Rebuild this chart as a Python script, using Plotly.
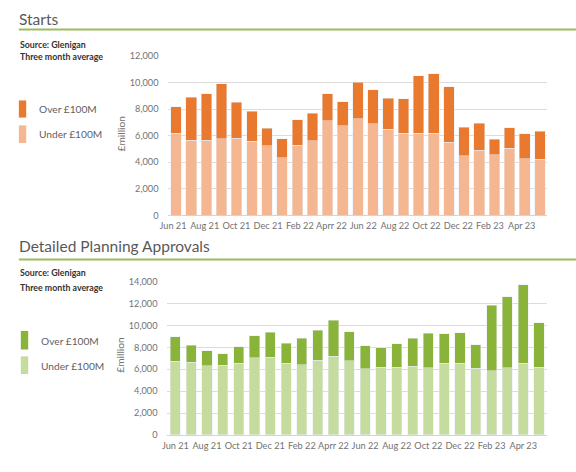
import numpy as np
import plotly.graph_objects as go

# ---------------- data ----------------
starts_months = ["Jun 21", "Jul 21", "Aug 21", "Sep 21", "Oct 21", "Nov 21", "Dec 21", "Jan 22",
                 "Feb 22", "Mar 22", "Apr 22", "May 22", "Jun 22", "Jul 22", "Aug 22", "Sep 22",
                 "Oct 22", "Nov 22", "Dec 22", "Jan 23", "Feb 23", "Mar 23", "Apr 23", "May 23", "Jun 23"]
starts_under = [6180, 5640, 5640, 5760, 5810, 5590, 5250, 4340, 5290, 5610, 7130, 6760, 7280,
                6910, 6470, 6180, 6180, 6180, 5510, 4490, 4900, 4580, 5070, 4260, 4240]
starts_over = [1980, 3260, 3530, 4140, 2690, 2230, 1320, 1440, 1890, 2060, 2010, 1790, 2720,
               2530, 2350, 2590, 4310, 4460, 4170, 2150, 2040, 1160, 1520, 1890, 2080]

dpa_months = ["Jun 21", "Jul 21", "Aug 21", "Sep 21", "Oct 21", "Nov 21", "Dec 21", "Jan 22",
              "Feb 22", "Mar 22", "Apr 22", "May 22", "Jun 22", "Jul 22", "Aug 22", "Sep 22",
              "Oct 22", "Nov 22", "Dec 22", "Jan 23", "Feb 23", "Mar 23", "Apr 23", "May 23"]
dpa_under = [6750, 6630, 6300, 6360, 6540, 7070, 7100, 6540, 6400, 6820, 7180, 6760,
             6050, 6200, 6200, 6290, 6140, 6550, 6550, 6110, 5840, 6140, 6550, 6200]
dpa_over = [2210, 1580, 1400, 1040, 1520, 2000, 2270, 1820, 2420, 2740, 3310, 2650,
            2080, 1750, 2140, 2530, 3150, 2680, 2770, 2110, 6020, 6460, 7150, 4020]

tick_labels = ["Jun 21", "Aug 21", "Oct 21", "Dec 21", "Feb 22", "Aprr 22",
               "Jun 22", "Aug 22", "Oct 22", "Dec 22", "Feb 23", "Apr 23"]

series_names = ["Over £100M", "Under £100M"]

# ---------------- styling ----------------
W, H = 576, 472
ORANGE_DARK = "#E8792F"
ORANGE_LIGHT = "#F4B791"
GREEN_DARK = "#8AB33A"
GREEN_LIGHT = "#C6DC9E"
HEAD_GREEN = "#9DBB5F"
TXT = "#5f5f5f"
AX = "#727272"
FONT = "Lato"


def px(x):
    return x / W


def py(y):
    return (H - y) / H


fig = go.Figure()

top_x = list(range(len(starts_months)))
bot_x = list(range(len(dpa_months)))

fig.add_trace(go.Bar(x=top_x, y=starts_under, name=series_names[1], marker_color=ORANGE_LIGHT,
                     width=0.7, customdata=starts_months, hovertemplate="%{customdata}: %{y:,}<extra></extra>",
                     xaxis="x", yaxis="y", showlegend=False))
fig.add_trace(go.Bar(x=top_x, y=starts_over, name=series_names[0], marker_color=ORANGE_DARK,
                     width=0.7, customdata=starts_months, hovertemplate="%{customdata}: %{y:,}<extra></extra>",
                     xaxis="x", yaxis="y", showlegend=False))
fig.add_trace(go.Bar(x=bot_x, y=dpa_under, name=series_names[1], marker_color=GREEN_LIGHT,
                     width=0.64, customdata=dpa_months, hovertemplate="%{customdata}: %{y:,}<extra></extra>",
                     xaxis="x2", yaxis="y2", showlegend=False))
fig.add_trace(go.Bar(x=bot_x, y=dpa_over, name=series_names[0], marker_color=GREEN_DARK,
                     width=0.64, customdata=dpa_months, hovertemplate="%{customdata}: %{y:,}<extra></extra>",
                     xaxis="x2", yaxis="y2", showlegend=False))

top_ticks = list(np.linspace(-0.2, 22.8, len(tick_labels)))
bot_ticks = list(range(0, 2 * len(tick_labels), 2))

axis_font = dict(family=FONT, size=9.2, color=AX)
xcommon = dict(showgrid=False, zeroline=False, showline=True, linecolor="#d4d4d4", linewidth=1,
               ticks="", tickfont=axis_font, tickangle=0, ticklabelstandoff=2)
ycommon = dict(showgrid=True, gridcolor="#dcdcdc", gridwidth=1, zeroline=False, showline=False,
               tickformat=",d", tickfont=axis_font, ticks="", ticklabelstandoff=9)

fig.update_layout(
    width=W, height=H,
    margin=dict(l=0, r=0, t=0, b=0),
    paper_bgcolor="white", plot_bgcolor="white",
    barmode="stack",
    showlegend=False,
    xaxis=dict(domain=[px(162), px(547)], range=[-0.5, len(starts_months) - 0.5], anchor="y",
               tickvals=top_ticks, ticktext=tick_labels, **xcommon),
    yaxis=dict(domain=[py(215), py(51.3)], range=[0, 12050], dtick=2000, anchor="x", **ycommon),
    xaxis2=dict(domain=[px(161), px(546.5)], range=[-0.5, len(dpa_months) - 0.5], anchor="y2",
                tickvals=bot_ticks, ticktext=tick_labels, **xcommon),
    yaxis2=dict(domain=[py(439.3), py(282)], range=[0, 14050], dtick=2000, anchor="x2", **ycommon),
)

shapes = []
# header rules
shapes.append(dict(type="line", xref="paper", yref="paper", x0=px(10), x1=1, y0=py(25), y1=py(25),
                   line=dict(color=HEAD_GREEN, width=2)))
shapes.append(dict(type="line", xref="paper", yref="paper", x0=px(10), x1=1, y0=py(260), y1=py(260),
                   line=dict(color=HEAD_GREEN, width=2)))
# legend swatches
for (x0, x1, y0, y1, c) in [(10, 17.5, 97.5, 115, ORANGE_DARK), (10, 17.5, 123, 141, ORANGE_LIGHT),
                            (12, 19.5, 333, 352, GREEN_DARK), (12, 19.5, 359, 377, GREEN_LIGHT)]:
    shapes.append(dict(type="rect", xref="paper", yref="paper", x0=px(x0), x1=px(x1), y0=py(y1), y1=py(y0),
                       fillcolor=c, line=dict(width=0)))
fig.update_layout(shapes=shapes)

ann = []


def text(x, y, s, size, color, family=FONT, xanchor="left", angle=0):
    ann.append(dict(x=px(x), y=py(y), xref="paper", yref="paper", text=s, showarrow=False,
                    xanchor=xanchor, yanchor="middle", textangle=angle,
                    font=dict(family=family, size=size, color=color)))


text(8, 14, "Starts", 15.5, "#595959", family="Lato")
text(8, 246, "Detailed Planning Approvals", 15.5, "#595959", family="Lato")
for y0 in (40, 273):
    text(9, y0, "<b>Source: Glenigan</b>", 8.8, "#333333", family="Lato")
for y0 in (53, 289):
    text(9, y0, "<b>Three month average</b>", 8.8, "#333333", family="Lato")
text(28, 106.5, series_names[0], 10.2, TXT)
text(28, 132, series_names[1], 10.2, TXT)
text(30, 343, series_names[0], 10.2, TXT)
text(30, 369, series_names[1], 10.2, TXT)
text(114, 131, "£million", 10.2, AX, xanchor="center", angle=-90)
text(113, 357, "£million", 10.2, AX, xanchor="center", angle=-90)

fig.update_layout(annotations=ann)

fig.write_html("out.html", config={"displayModeBar": False},
               post_script="document.body.style.margin='0';")
